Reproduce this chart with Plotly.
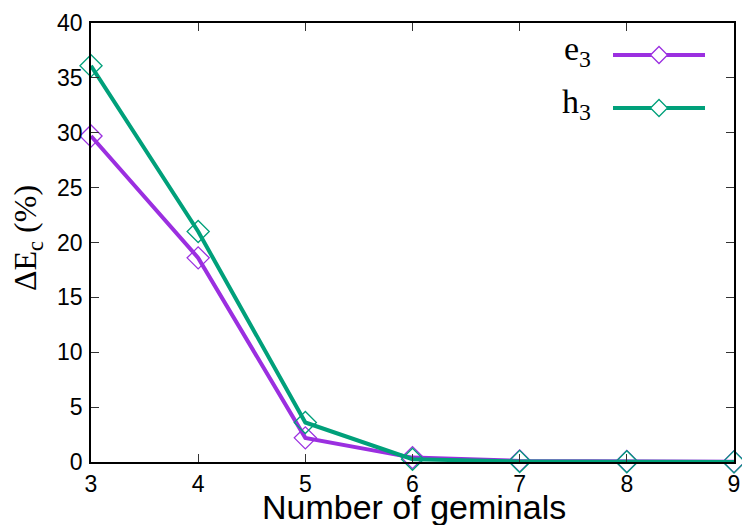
import plotly.graph_objects as go

# Number of geminals and relative correlation-energy error (%)
geminals = [3, 4, 5, 6, 7, 8, 9]
e3_err = [29.7, 18.6, 2.2, 0.4, 0.1, 0.05, 0.03]
h3_err = [36.1, 21.0, 3.6, 0.25, 0.05, 0.02, 0.01]

series_names = ["e<sub>3</sub>", "h<sub>3</sub>"]
series_values = [e3_err, h3_err]
series_colors = ["#9b2fe0", "#00a07a"]

x_ticks = [3, 4, 5, 6, 7, 8, 9]
y_ticks = [0, 5, 10, 15, 20, 25, 30, 35, 40]

W, H = 742, 525
L, R, T, B = 91, 8, 23, 63
pw, ph = W - L - R, H - T - B
y_base = T + ph  # pixel row of the x axis

def px(xp):
    return (xp - L) / pw

def py(yp):
    return (y_base - yp) / ph

serif = "Liberation Serif, Times New Roman, serif"
sans = "Liberation Sans, Arial, Helvetica, sans-serif"

fig = go.Figure()
for name, vals, col in zip(series_names, series_values, series_colors):
    fig.add_trace(go.Scatter(
        x=geminals, y=vals, name=name, mode="lines+markers",
        line=dict(color=col, width=4),
        marker=dict(symbol="diamond-open", size=17, color=col, line=dict(width=1.3, color=col)),
        cliponaxis=False, showlegend=False,
    ))

# gnuplot-style key: label on the left, line sample with point on the right
key_rows = [py(55), py(108)]
x0, x1 = px(613), px(705)
xm = px(659)
dx, dy = 8.5 / pw, 8.5 / ph
shapes = []
annotations = []
for name, col, yk in zip(series_names, series_colors, key_rows):
    shapes.append(dict(type="line", xref="paper", yref="paper", x0=x0, x1=x1, y0=yk, y1=yk,
                       line=dict(color=col, width=4)))
    shapes.append(dict(type="path", xref="paper", yref="paper",
                       path=f"M {xm-dx},{yk} L {xm},{yk+dy} L {xm+dx},{yk} L {xm},{yk-dy} Z",
                       fillcolor="white", line=dict(color=col, width=1.3)))
    annotations.append(dict(xref="paper", yref="paper", x=px(593), y=yk + 4 / ph,
                            xanchor="right", yanchor="middle", showarrow=False, text=name,
                            font=dict(family=serif, size=34, color="black")))

# axis titles
annotations.append(dict(xref="paper", yref="paper", x=px(28), y=py(238),
                        xanchor="center", yanchor="middle", showarrow=False, textangle=-90,
                        text="ΔE<sub>c</sub> (%)",
                        font=dict(family=serif, size=32, color="black")))
annotations.append(dict(xref="paper", yref="paper", x=px(414), y=py(507),
                        xanchor="center", yanchor="middle", showarrow=False,
                        text="Number of geminals",
                        font=dict(family=sans, size=34, color="black")))

axis_common = dict(showline=True, linecolor="black", linewidth=1.5, mirror="ticks",
                   ticks="inside", ticklen=8, tickwidth=1.2, tickcolor="#333333",
                   showgrid=False, zeroline=False, automargin=False,
                   tickfont=dict(family=sans, size=23, color="black"))

fig.update_layout(
    width=W, height=H,
    margin=dict(l=L, r=R, t=T, b=B),
    paper_bgcolor="white", plot_bgcolor="white",
    xaxis=dict(range=[3, 9], tickvals=x_ticks, ticklabelstandoff=1, **axis_common),
    yaxis=dict(range=[0, 40], tickvals=y_ticks, ticklabelstandoff=2, **axis_common),
    shapes=shapes, annotations=annotations,
)

fig.write_html("out.html")
